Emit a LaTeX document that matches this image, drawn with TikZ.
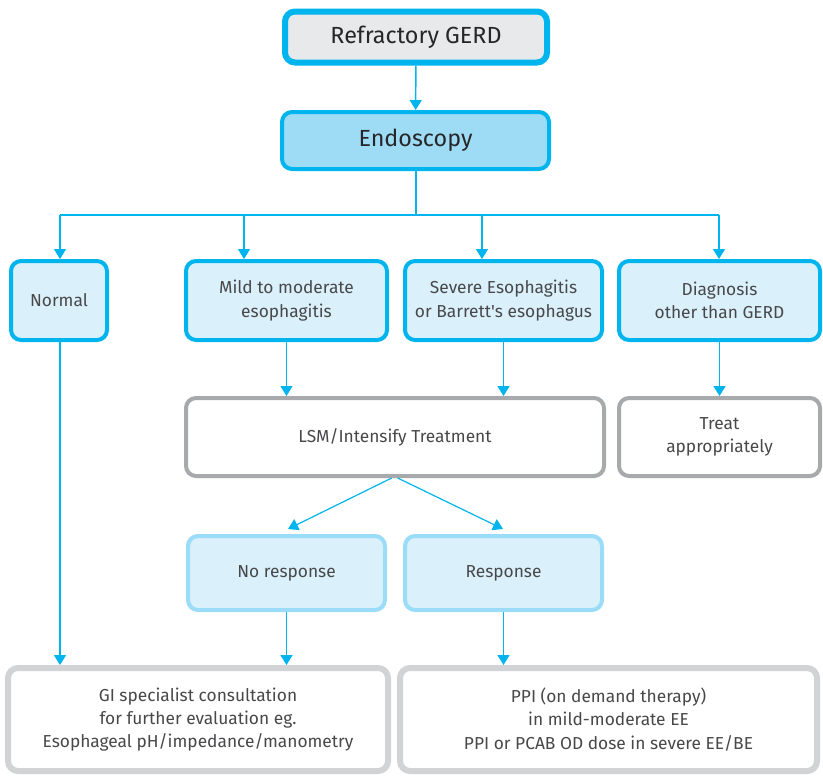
\documentclass[tikz,border=0pt]{standalone}
\usepackage{fontspec}
\setmainfont{Fira Sans}
\usetikzlibrary{arrows.meta,calc}
\definecolor{cyanb}{HTML}{00B4EE}
\definecolor{lightfill}{HTML}{DAF1FB}
\definecolor{endofill}{HTML}{9EDCF6}
\definecolor{gerdfill}{HTML}{E8E9EB}
\definecolor{grayb}{HTML}{A7A9AC}
\definecolor{lgrayb}{HTML}{D1D3D4}
\definecolor{lblueb}{HTML}{9BDCF8}
\definecolor{txt}{HTML}{48484A}
\definecolor{ttl}{HTML}{262628}
\tikzset{
  box/.style={rectangle, rounded corners=7.5pt, inner sep=0pt, align=center,
    text=txt, font=\fontsize{13}{17.5}\selectfont},
  bluebox/.style={box, draw=cyanb, fill=lightfill, line width=3pt, minimum height=59.25pt},
  graybox/.style={box, draw=grayb, fill=white, line width=3pt, minimum height=58.5pt},
  respbox/.style={box, draw=lblueb, fill=lightfill, line width=3pt, minimum height=55.5pt},
  endbox/.style={box, draw=lgrayb, fill=white, line width=4.5pt, minimum height=77.25pt},
  arr/.style={draw=cyanb, line width=1.1pt, -{Triangle[width=9pt,length=7.5pt]}},
  ln/.style={draw=cyanb, line width=1.1pt},
}
\begin{document}
\begin{tikzpicture}[x=0.75pt,y=-0.75pt]
\useasboundingbox (0,0) rectangle (823,776);
% top
\node[box, draw=cyanb, fill=gerdfill, line width=4.5pt, minimum width=196.5pt, minimum height=38.25pt,
  text=ttl, font=\fontsize{17.5}{20}\selectfont] (gerd) at (416,37) {Refractory GERD};
\node[box, draw=cyanb, fill=endofill, line width=3pt, minimum width=200.25pt, minimum height=42.75pt,
  text=ttl, font=\fontsize{17.5}{20}\selectfont] (endo) at (415.5,140.5) {Endoscopy};
% row 1
\node[bluebox, minimum width=72pt] (normal) at (59,300.5) {Normal};
\node[bluebox, minimum width=150.75pt] (mild) at (286.5,300.5) {Mild to moderate\\esophagitis};
\node[bluebox, minimum width=147.75pt] (severe) at (503.5,300.5) {Severe Esophagitis\\or Barrett\textquotesingle s esophagus};
\node[bluebox, minimum width=150.75pt] (diag) at (719.5,300.5) {Diagnosis\\other than GERD};
% row 2
\node[graybox, minimum width=313.5pt] (lsm) at (395,437) {LSM/Intensify Treatment};
\node[graybox, minimum width=150.75pt] (treat) at (719.5,437) {Treat\\appropriately};
% row 3
\node[respbox, minimum width=147.75pt] (noresp) at (286.5,573) {No response};
\node[respbox, minimum width=147.75pt] (resp) at (503.5,573) {Response};
% row 4
\node[endbox, minimum width=285pt] (gi) at (198,719.5) {GI specialist consultation\\for further evaluation eg.\\Esophageal pH/impedance/manometry};
\node[endbox, minimum width=312.75pt] (ppi) at (608.5,719.5) {PPI (on demand therapy)\\in mild-moderate EE\\PPI or PCAB OD dose in severe EE/BE};
% bus
\coordinate (bc) at (416,215);
\coordinate (b1) at (60,215);
\coordinate (b2) at (244,215);
\coordinate (b3) at (482,215);
\coordinate (b4) at (719,215);
\draw[arr] (gerd) -- (endo);
\draw[ln] (endo.south -| bc) -- (bc);
\draw[ln] (b1) -- (b4);
\draw[arr] (b1) -- (b1 |- normal.north);
\draw[arr] (b2) -- (b2 |- mild.north);
\draw[arr] (b3) -- (b3 |- severe.north);
\draw[arr] (b4) -- (b4 |- diag.north);
% to row 2
\draw[arr] (mild.south) -- (mild.south |- lsm.north);
\draw[arr] (severe.south) -- (severe.south |- lsm.north);
\draw[arr] (diag.south) -- (treat.north);
% diverging
\draw[draw=cyanb, line width=0.9pt, -{Triangle[width=9pt,length=7.5pt]}] ([xshift=-2.5pt]lsm.south) -- ($(noresp.north)+(1.5,-5)$);
\draw[draw=cyanb, line width=0.9pt, -{Triangle[width=9pt,length=7.5pt]}] ([xshift=2pt]lsm.south) -- ($(resp.north)+(-0.5,-5)$);
% to row 4
\draw[arr] (normal.south -| b1) -- (b1 |- gi.north);
\draw[arr] (noresp.south) -- (noresp.south |- gi.north);
\draw[arr] (resp.south) -- (resp.south |- ppi.north);
\end{tikzpicture}
\end{document}
